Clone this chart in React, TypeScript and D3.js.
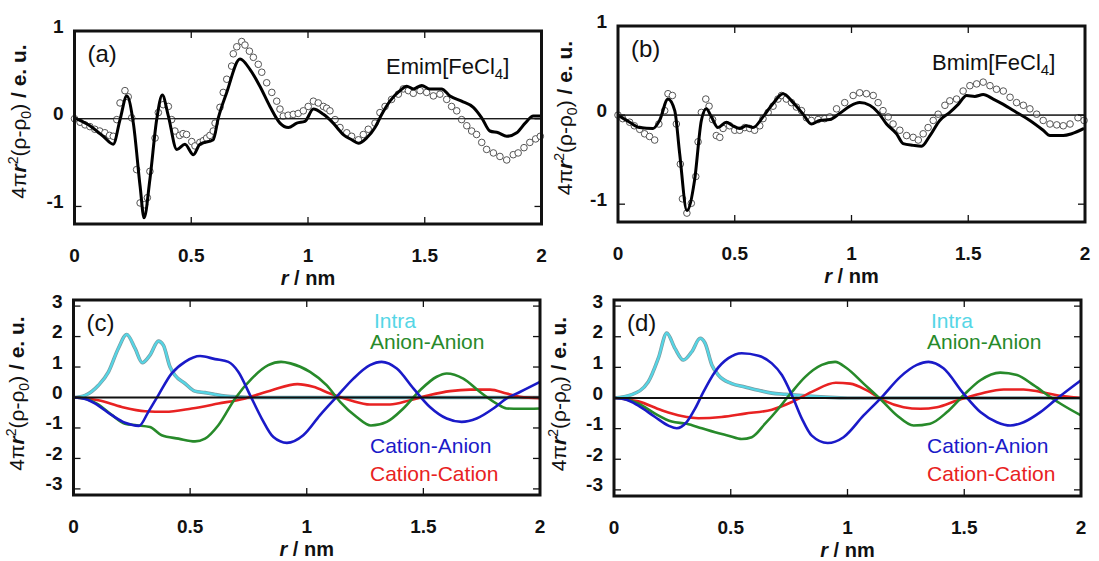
import React from "react";
import * as d3 from "d3";

type Pt = [number, number];

// ---------- data (r / nm, 4πr²(ρ-ρ0) / e.u.) ----------
const xTicks = [0, 0.5, 1, 1.5, 2];
const xTickLabels = ["0", "0.5", "1", "1.5", "2"];
const yTicksTop = [-1, 0, 1];
const yTicksBottom = [-3, -2, -1, 0, 1, 2, 3];

const emimCalc: Pt[] = [[0,0.01],[0.066,-0.08],[0.123,-0.2],[0.166,-0.29],[0.195,-0.01],[0.224,0.26],[0.252,-0.05],[0.281,-0.77],[0.298,-1.13],[0.323,-0.69],[0.352,-0.01],[0.376,0.27],[0.402,0.03],[0.438,-0.35],[0.473,-0.29],[0.509,-0.41],[0.537,-0.29],[0.594,-0.24],[0.616,0.01],[0.652,0.3],[0.709,0.68],[0.752,0.56],[0.794,0.37],[0.837,0.14],[0.88,-0.05],[0.916,-0.1],[0.952,-0.05],[0.987,-0.03],[1.023,0.11],[1.066,0.05],[1.108,-0.05],[1.151,-0.18],[1.187,-0.24],[1.216,-0.28],[1.251,-0.22],[1.287,-0.1],[1.316,0.05],[1.351,0.2],[1.394,0.32],[1.423,0.37],[1.451,0.34],[1.487,0.38],[1.522,0.34],[1.572,0.34],[1.608,0.26],[1.658,0.2],[1.708,0.13],[1.744,0.01],[1.779,-0.14],[1.815,-0.16],[1.851,-0.2],[1.894,-0.16],[1.93,-0.05],[1.965,0.03],[2.0,0.03]];

const emimExp: Pt[] = [[0,0],[0.024,-0.04],[0.045,-0.07],[0.066,-0.09],[0.087,-0.12],[0.108,-0.14],[0.13,-0.16],[0.15,-0.19],[0.166,-0.2],[0.181,-0.01],[0.195,0.18],[0.216,0.32],[0.23,0.25],[0.245,0.01],[0.266,-0.58],[0.281,-0.96],[0.3,-0.98],[0.312,-0.9],[0.323,-0.6],[0.345,-0.22],[0.359,0.07],[0.38,0.16],[0.402,0.14],[0.416,-0.01],[0.43,-0.14],[0.45,-0.19],[0.465,-0.17],[0.48,-0.18],[0.502,-0.26],[0.516,-0.31],[0.537,-0.27],[0.552,-0.25],[0.566,-0.22],[0.58,-0.19],[0.594,-0.14],[0.602,-0.05],[0.623,0.13],[0.637,0.3],[0.652,0.45],[0.673,0.6],[0.68,0.74],[0.695,0.82],[0.716,0.88],[0.73,0.84],[0.749,0.77],[0.766,0.7],[0.787,0.62],[0.802,0.53],[0.823,0.41],[0.845,0.3],[0.866,0.2],[0.88,0.11],[0.894,0.03],[0.915,0.04],[0.937,0.05],[0.958,0.06],[0.98,0.09],[1.001,0.14],[1.023,0.2],[1.044,0.18],[1.066,0.14],[1.08,0.12],[1.094,0.09],[1.116,-0.01],[1.137,-0.1],[1.166,-0.16],[1.187,-0.2],[1.216,-0.24],[1.237,-0.18],[1.258,-0.12],[1.287,-0.05],[1.308,0.07],[1.33,0.14],[1.358,0.22],[1.387,0.28],[1.408,0.34],[1.43,0.32],[1.451,0.29],[1.48,0.32],[1.508,0.3],[1.537,0.26],[1.565,0.28],[1.594,0.22],[1.615,0.14],[1.637,0.09],[1.658,-0.01],[1.68,-0.08],[1.701,-0.14],[1.722,-0.18],[1.744,-0.27],[1.765,-0.35],[1.794,-0.39],[1.822,-0.43],[1.851,-0.47],[1.879,-0.41],[1.9,-0.39],[1.925,-0.33],[1.95,-0.27],[1.975,-0.23],[1.995,-0.2]];

const bmimCalc: Pt[] = [[0,0],[0.05,-0.08],[0.093,-0.14],[0.15,-0.15],[0.178,-0.06],[0.214,0.18],[0.243,0.05],[0.264,-0.43],[0.295,-1.07],[0.328,-0.73],[0.357,-0.06],[0.378,0.07],[0.4,-0.02],[0.428,-0.14],[0.464,-0.08],[0.492,-0.12],[0.521,-0.15],[0.55,-0.12],[0.578,-0.14],[0.621,-0.02],[0.664,0.13],[0.707,0.24],[0.75,0.14],[0.793,0.01],[0.828,-0.1],[0.864,-0.06],[0.907,-0.05],[0.95,0.02],[0.993,0.1],[1.035,0.14],[1.078,0.11],[1.114,0.03],[1.15,-0.1],[1.193,-0.21],[1.221,-0.32],[1.264,-0.34],[1.3,-0.35],[1.336,-0.23],[1.378,-0.06],[1.421,0.03],[1.457,0.12],[1.493,0.22],[1.528,0.21],[1.564,0.23],[1.607,0.18],[1.65,0.12],[1.707,0.03],[1.764,-0.06],[1.821,-0.17],[1.85,-0.23],[1.907,-0.23],[1.943,-0.21],[1.996,-0.15]];

const bmimExp: Pt[] = [[0,0],[0.02,-0.04],[0.05,-0.08],[0.07,-0.12],[0.093,-0.16],[0.114,-0.21],[0.135,-0.24],[0.157,-0.28],[0.175,-0.1],[0.2,0.05],[0.214,0.24],[0.233,0.22],[0.25,-0.1],[0.267,-0.55],[0.276,-0.94],[0.295,-1.1],[0.314,-0.99],[0.333,-0.69],[0.343,-0.3],[0.357,0.03],[0.376,0.18],[0.39,0.1],[0.405,-0.05],[0.421,-0.23],[0.436,-0.25],[0.45,-0.15],[0.478,-0.12],[0.5,-0.17],[0.521,-0.17],[0.543,-0.14],[0.564,-0.15],[0.585,-0.17],[0.607,-0.12],[0.621,-0.04],[0.643,0.03],[0.664,0.1],[0.685,0.18],[0.7,0.22],[0.721,0.18],[0.743,0.14],[0.764,0.09],[0.786,0.05],[0.807,-0.03],[0.828,-0.06],[0.857,-0.05],[0.885,-0.04],[0.907,-0.02],[0.936,0.07],[0.971,0.14],[1.007,0.22],[1.035,0.25],[1.064,0.24],[1.093,0.22],[1.114,0.14],[1.135,0.05],[1.157,-0.02],[1.178,-0.1],[1.207,-0.17],[1.236,-0.23],[1.264,-0.25],[1.286,-0.28],[1.307,-0.21],[1.328,-0.14],[1.35,-0.06],[1.371,0.01],[1.4,0.11],[1.421,0.16],[1.45,0.18],[1.478,0.27],[1.507,0.33],[1.536,0.35],[1.564,0.37],[1.593,0.33],[1.621,0.29],[1.65,0.27],[1.679,0.2],[1.707,0.14],[1.736,0.11],[1.764,0.07],[1.793,0.01],[1.821,-0.06],[1.85,-0.1],[1.879,-0.11],[1.907,-0.12],[1.936,-0.1],[1.97,-0.03],[1.996,-0.06]];

const cIntra: Pt[] = [[0,0],[0.05,0.07],[0.107,0.4],[0.15,0.84],[0.192,1.61],[0.228,2.07],[0.264,1.61],[0.295,1.14],[0.328,1.39],[0.364,1.85],[0.385,1.72],[0.414,1.0],[0.435,0.73],[0.478,0.46],[0.52,0.21],[0.564,0.16],[0.607,0.1],[0.65,0.05],[0.7,0.02],[0.8,0],[1.2,0],[1.6,0],[2,0]];
const cAnionAnion: Pt[] = [[0,0],[0.05,-0.04],[0.1,-0.2],[0.164,-0.57],[0.22,-0.86],[0.271,-0.91],[0.328,-0.97],[0.378,-1.24],[0.45,-1.35],[0.521,-1.44],[0.564,-1.35],[0.621,-0.91],[0.693,-0.03],[0.764,0.62],[0.835,1.06],[0.89,1.17],[0.93,1.12],[1.014,0.84],[1.086,0.4],[1.143,-0.14],[1.214,-0.64],[1.275,-0.92],[1.343,-0.8],[1.414,-0.36],[1.486,0.24],[1.557,0.68],[1.6,0.79],[1.671,0.62],[1.743,0.18],[1.814,-0.2],[1.857,-0.36],[1.914,-0.37],[2,-0.36]];
const cCationAnion: Pt[] = [[0,0],[0.05,-0.05],[0.093,-0.2],[0.164,-0.58],[0.221,-0.83],[0.281,-0.93],[0.321,-0.47],[0.364,0.08],[0.421,0.79],[0.478,1.17],[0.543,1.36],[0.607,1.26],[0.664,1.17],[0.707,0.84],[0.757,0.08],[0.807,-0.69],[0.857,-1.3],[0.915,-1.49],[0.985,-1.24],[1.057,-0.58],[1.128,0.02],[1.2,0.62],[1.271,1.06],[1.321,1.17],[1.386,0.95],[1.457,0.3],[1.528,-0.31],[1.6,-0.69],[1.664,-0.8],[1.728,-0.69],[1.8,-0.36],[1.857,-0.03],[1.914,0.18],[2,0.51]];
const cCationCation: Pt[] = [[0,0],[0.107,-0.09],[0.207,-0.31],[0.307,-0.45],[0.393,-0.47],[0.507,-0.36],[0.621,-0.2],[0.736,-0.03],[0.85,0.24],[0.96,0.44],[1.028,0.35],[1.1,0.13],[1.186,-0.09],[1.271,-0.23],[1.357,-0.23],[1.443,-0.09],[1.528,0.08],[1.614,0.21],[1.7,0.26],[1.786,0.26],[1.857,0.13],[1.914,0.02],[2,-0.02]];

const dIntra: Pt[] = [[0,0],[0.076,0.11],[0.147,0.53],[0.19,1.3],[0.226,2.12],[0.261,1.62],[0.297,1.24],[0.333,1.51],[0.369,1.95],[0.39,1.79],[0.419,1.08],[0.447,0.75],[0.504,0.47],[0.561,0.36],[0.619,0.25],[0.676,0.16],[0.733,0.12],[0.819,0.07],[0.904,0.03],[1.0,0],[1.5,0],[2,0]];
const dAnionAnion: Pt[] = [[0,0],[0.05,-0.04],[0.104,-0.18],[0.176,-0.51],[0.247,-0.77],[0.311,-0.84],[0.376,-0.99],[0.433,-1.12],[0.49,-1.23],[0.547,-1.34],[0.59,-1.28],[0.647,-0.84],[0.704,-0.35],[0.762,0.2],[0.819,0.69],[0.89,1.08],[0.947,1.18],[0.997,0.97],[1.069,0.47],[1.147,-0.08],[1.212,-0.57],[1.283,-0.9],[1.354,-0.84],[1.426,-0.46],[1.497,0.09],[1.569,0.58],[1.654,0.83],[1.726,0.75],[1.797,0.42],[1.869,0.03],[1.911,-0.18],[2,-0.57]];
const dCationAnion: Pt[] = [[0,0],[0.05,-0.05],[0.104,-0.25],[0.176,-0.62],[0.233,-0.9],[0.269,-0.99],[0.311,-0.79],[0.347,-0.35],[0.383,0.2],[0.433,0.86],[0.49,1.3],[0.547,1.46],[0.619,1.38],[0.676,1.13],[0.719,0.75],[0.762,0.09],[0.805,-0.68],[0.847,-1.23],[0.915,-1.47],[0.983,-1.28],[1.069,-0.57],[1.147,0.03],[1.226,0.69],[1.297,1.08],[1.347,1.18],[1.411,0.97],[1.497,0.14],[1.569,-0.46],[1.64,-0.79],[1.697,-0.9],[1.754,-0.79],[1.826,-0.46],[1.897,-0.02],[2,0.58]];
const dCationCation: Pt[] = [[0,0],[0.104,-0.11],[0.204,-0.4],[0.29,-0.59],[0.361,-0.66],[0.461,-0.62],[0.561,-0.51],[0.676,-0.38],[0.762,-0.13],[0.847,0.2],[0.95,0.5],[1.011,0.47],[1.083,0.25],[1.154,-0.08],[1.24,-0.3],[1.312,-0.35],[1.383,-0.3],[1.469,-0.08],[1.569,0.14],[1.669,0.28],[1.754,0.28],[1.826,0.2],[1.897,0.09],[2,0]];

const seriesNames = ["Intra", "Anion-Anion", "Cation-Anion", "Cation-Cation"];
const seriesColors = ["#55d6e6", "#278a2a", "#1a1ac8", "#e82222"];

const FONT = "'Liberation Sans', Arial, Helvetica, sans-serif";

interface Box { x0: number; x1: number; y0: number; y1: number; }

function YTitle({ x, cy }: { x: number; cy: number }) {
  return (
    <text transform={`translate(${x},${cy}) rotate(-90)`} textAnchor="middle" fontFamily={FONT} fontSize={21} fill="#111">
      <tspan>4π</tspan>
      <tspan fontStyle="italic" fontWeight="bold">r</tspan>
      <tspan fontSize={14} dy={-8}>2</tspan>
      <tspan dy={8}>(ρ-ρ</tspan>
      <tspan fontSize={14} dy={5}>0</tspan>
      <tspan dy={-5}>)</tspan>
      <tspan fontWeight="bold"> / e. u.</tspan>
    </text>
  );
}

function Frame({ box, yDomain, yTicks, tag, zeroWidth, children }:
  { box: Box; yDomain: [number, number]; yTicks: number[]; tag: string; zeroWidth: number; children: (x: d3.ScaleLinear<number, number>, y: d3.ScaleLinear<number, number>) => React.ReactNode }) {
  const x = d3.scaleLinear().domain([0, 2]).range([box.x0, box.x1]);
  const y = d3.scaleLinear().domain(yDomain).range([box.y1, box.y0]);
  const tl = 7;
  return (
    <g>
      {children(x, y)}
      <line x1={box.x0} x2={box.x1} y1={y(0)} y2={y(0)} stroke="#111" strokeWidth={zeroWidth} />
      {xTicks.map((t) => (
        <g key={"xt" + t}>
          <line x1={x(t)} x2={x(t)} y1={box.y1} y2={box.y1 - tl} stroke="#111" strokeWidth={1.3} />
          <line x1={x(t)} x2={x(t)} y1={box.y0} y2={box.y0 + tl} stroke="#111" strokeWidth={1.3} />
        </g>
      ))}
      {yTicks.map((t) => (
        <g key={"yt" + t}>
          <line x1={box.x0} x2={box.x0 + tl} y1={y(t)} y2={y(t)} stroke="#111" strokeWidth={1.3} />
          <line x1={box.x1} x2={box.x1 - tl} y1={y(t)} y2={y(t)} stroke="#111" strokeWidth={1.3} />
        </g>
      ))}
      <rect x={box.x0} y={box.y0} width={box.x1 - box.x0} height={box.y1 - box.y0} fill="none" stroke="#111" strokeWidth={3} />
      {xTicks.map((t, i) => (
        <text key={"xl" + t} x={x(t)} y={box.y1 + 38} textAnchor="middle" fontFamily={FONT} fontWeight="bold" fontSize={19} fill="#111">{xTickLabels[i]}</text>
      ))}
      {yTicks.map((t) => (
        <text key={"yl" + t} x={box.x0 - 11} y={y(t) + 1.5} textAnchor="end" fontFamily={FONT} fontWeight="bold" fontSize={19} fill="#111">{String(t)}</text>
      ))}
      <text x={(box.x0 + box.x1) / 2} y={box.y1 + 61} textAnchor="middle" fontFamily={FONT} fontWeight="bold" fontSize={20} fill="#111">
        <tspan fontStyle="italic">r</tspan><tspan> / nm</tspan>
      </text>
      <text x={box.x0 + 13} y={box.y0 + 31} fontFamily={FONT} fontSize={24} fill="#111">{tag}</text>
    </g>
  );
}

function ExpPanel({ box, calc, exp, tag, name, nameX, nameY, titleX }:
  { box: Box; calc: Pt[]; exp: Pt[]; tag: string; name: string; nameX: number; nameY: number; titleX: number }) {
  return (
    <g>
      <Frame box={box} yDomain={[-1.2, 1]} yTicks={yTicksTop} tag={tag} zeroWidth={1}>
        {(x, y) => {
          const line = d3.line<Pt>().x((d) => x(d[0])).y((d) => y(d[1])).curve(d3.curveMonotoneX);
          return (
            <g>
              <line x1={box.x0} x2={box.x1} y1={y(0)} y2={y(0)} stroke="#111" strokeWidth={1} />
              {exp.map((d, i) => (
                <circle key={i} cx={x(d[0])} cy={y(d[1])} r={3.3} fill="#fff" stroke="#555" strokeWidth={1} />
              ))}
              <path d={line(calc) || ""} fill="none" stroke="#000" strokeWidth={3} strokeLinejoin="round" />
            </g>
          );
        }}
      </Frame>
      <text x={nameX} y={nameY} fontFamily={FONT} fontSize={22} fill="#111">
        {name}[FeCl<tspan fontSize={15} dy={5}>4</tspan><tspan dy={-5}>]</tspan>
      </text>
      <YTitle x={titleX} cy={(box.y0 + box.y1) / 2 - 6} />
    </g>
  );
}

function PartPanel({ box, series, tag, legendX, titleX }:
  { box: Box; series: Pt[][]; tag: string; legendX: number; titleX: number }) {
  const legendY = [box.y0 + 28, box.y0 + 49, box.y0 + 153, box.y0 + 181];
  return (
    <g>
      <Frame box={box} yDomain={[-3.2, 3.2]} yTicks={yTicksBottom} tag={tag} zeroWidth={2}>
        {(x, y) => {
          const line = d3.line<Pt>().x((d) => x(d[0])).y((d) => y(d[1])).curve(d3.curveMonotoneX);
          return (
            <g>
              <path d={line(series[0]) || ""} fill="none" stroke="#7a9ca2" strokeWidth={3.6} strokeLinejoin="round" />
              <path d={line(series[0]) || ""} fill="none" stroke={seriesColors[0]} strokeWidth={2.2} strokeLinejoin="round" />
              {[3, 1, 2].map((k) => (
                <path key={k} d={line(series[k]) || ""} fill="none" stroke={seriesColors[k]} strokeWidth={2.6} strokeLinejoin="round" />
              ))}
            </g>
          );
        }}
      </Frame>
      {seriesNames.map((n, i) => (
        <text key={n} x={legendX + (i === 0 ? 4 : 0)} y={legendY[i]} fontFamily={FONT} fontSize={21} fill={seriesColors[i]}>{n}</text>
      ))}
      <YTitle x={titleX} cy={(box.y0 + box.y1) / 2 - 4} />
    </g>
  );
}

export default function App() {
  const boxA: Box = { x0: 74.5, x1: 541.5, y0: 31, y1: 224 };
  const boxB: Box = { x0: 618, x1: 1085, y0: 26, y1: 222 };
  const boxC: Box = { x0: 73.5, x1: 540, y0: 300, y1: 495 };
  const boxD: Box = { x0: 614, x1: 1081, y0: 300, y1: 496 };
  return (
    <svg width={1099} height={561} style={{ position: "absolute", left: 0, top: 0, background: "#fff" }}>
      <rect x={0} y={0} width={1099} height={561} fill="#fff" />
      <ExpPanel box={boxA} calc={emimCalc} exp={emimExp} tag="(a)" name="Emim" nameX={386} nameY={74} titleX={26} />
      <ExpPanel box={boxB} calc={bmimCalc} exp={bmimExp} tag="(b)" name="Bmim" nameX={932} nameY={70} titleX={572} />
      <PartPanel box={boxC} series={[cIntra, cAnionAnion, cCationAnion, cCationCation]} tag="(c)" legendX={370} titleX={24} />
      <PartPanel box={boxD} series={[dIntra, dAnionAnion, dCationAnion, dCationCation]} tag="(d)" legendX={927} titleX={566} />
    </svg>
  );
}
